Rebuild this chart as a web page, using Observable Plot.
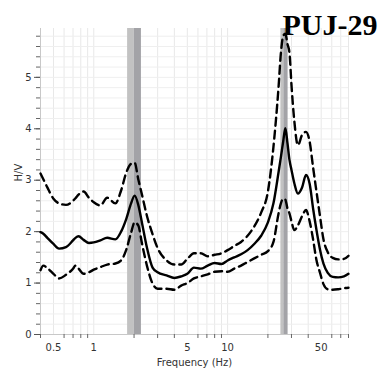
<!DOCTYPE html>
<html>
<head>
<meta charset="utf-8">
<script src="https://cdn.jsdelivr.net/npm/d3@7"></script>
<script src="https://cdn.jsdelivr.net/npm/@observablehq/plot@0.6"></script>
<style>
  body { margin: 0; background: #fff; }
</style>
</head>
<body>
<div id="chart"></div>
<script>
// H/V spectral ratio for station PUJ-29: mean curve and ± one standard deviation
const stationName = "PUJ-29";

const freq = [0.40, 0.42, 0.45, 0.50, 0.55, 0.62, 0.70, 0.73, 0.77, 0.84, 0.92, 1.0, 1.12, 1.26, 1.45, 1.6, 1.75, 1.9, 2.02, 2.15, 2.3, 2.5, 2.75, 3.0, 3.5, 4.0, 4.5, 5.0, 5.6, 6.3, 7.1, 8.0, 9.0, 10, 11.2, 12.6, 14.1, 15.8, 17.8, 20, 22, 24, 25, 26, 27, 28, 29, 30, 31.5, 33.5, 36, 38.5, 41, 43.5, 46, 49, 52, 56, 61, 67, 74, 80];

const hvMean = [1.99, 1.96, 1.88, 1.76, 1.67, 1.70, 1.83, 1.88, 1.91, 1.84, 1.78, 1.79, 1.83, 1.88, 1.85, 2.00, 2.25, 2.55, 2.70, 2.52, 2.15, 1.68, 1.30, 1.21, 1.15, 1.10, 1.13, 1.18, 1.30, 1.28, 1.34, 1.39, 1.37, 1.44, 1.50, 1.56, 1.64, 1.76, 1.92, 2.18, 2.55, 3.15, 3.45, 3.75, 4.01, 3.72, 3.39, 3.20, 2.94, 2.74, 2.86, 3.10, 2.93, 2.45, 2.05, 1.65, 1.38, 1.20, 1.12, 1.11, 1.13, 1.18];

const hvUpper = [3.13, 3.02, 2.86, 2.64, 2.55, 2.52, 2.60, 2.65, 2.72, 2.78, 2.66, 2.57, 2.51, 2.66, 2.55, 2.80, 3.15, 3.32, 3.34, 3.02, 2.70, 2.30, 1.95, 1.68, 1.44, 1.36, 1.36, 1.47, 1.58, 1.58, 1.52, 1.55, 1.58, 1.64, 1.72, 1.80, 1.92, 2.10, 2.37, 2.78, 3.65, 4.80, 5.47, 5.80, 5.85, 5.65, 5.47, 4.85, 4.15, 3.68, 3.88, 3.94, 3.75, 3.25, 2.80, 2.30, 1.85, 1.60, 1.49, 1.46, 1.47, 1.53];

const hvLower = [1.25, 1.34, 1.29, 1.18, 1.09, 1.16, 1.28, 1.34, 1.28, 1.18, 1.21, 1.26, 1.31, 1.36, 1.38, 1.44, 1.65, 1.98, 2.18, 2.12, 1.75, 1.33, 0.99, 0.89, 0.89, 0.87, 0.95, 1.00, 1.09, 1.13, 1.17, 1.22, 1.23, 1.22, 1.28, 1.34, 1.41, 1.48, 1.55, 1.62, 1.80, 2.35, 2.55, 2.64, 2.62, 2.45, 2.35, 2.20, 2.03, 2.12, 2.30, 2.42, 2.20, 1.85, 1.46, 1.20, 0.98, 0.88, 0.87, 0.88, 0.90, 0.91];

// Peak frequency bands: lower bound, peak, upper bound (Hz)
const bandLow  = [1.79, 25.0];
const bandPeak = [2.01, 26.3];
const bandHigh = [2.27, 28.3];

const xTickLabels = [0.5, 1, 5, 10, 50];
const yTickLabels = [0, 1, 2, 3, 4, 5];

const xDomain = [0.4, 80];
const yDomain = [0, 5.95];

const rows = freq.map((f, i) => ({f, mean: hvMean[i], upper: hvUpper[i], lower: hvLower[i]}));
const bands = bandLow.map((lo, i) => ({lo, peak: bandPeak[i], hi: bandHigh[i]}));

const xGrid = d3.scaleLog().domain(xDomain).ticks();
const xMinor = xGrid.filter(v => !xTickLabels.includes(+v.toPrecision(6)));
const yMinor = d3.range(0, 30).map(i => i / 5).filter(v => v <= yDomain[1]);

const dash = "8,5";

const chart = Plot.plot({
  width: 379,
  height: 380,
  marginLeft: 40,
  marginRight: 31,
  marginTop: 28,
  marginBottom: 46,
  style: {fontFamily: "DejaVu Sans", fontSize: "10px", color: "#333", background: "#fff"},
  x: {type: "log", domain: xDomain},
  y: {domain: yDomain},
  marks: [
    Plot.gridX(xGrid, {stroke: "#e8e8e8", strokeOpacity: 1}),
    Plot.gridY(yMinor, {stroke: "#efefef", strokeOpacity: 1}),
    Plot.rect(bands, {x1: "lo", x2: "peak", fill: "#c2c2c2"}),
    Plot.rect(bands, {x1: "peak", x2: "hi", fill: "#a3a3a7"}),
    Plot.ruleX([xDomain[0]], {stroke: "#c8c8c8"}),
    Plot.ruleY([0], {stroke: "#c8c8c8"}),
    Plot.axisY(yMinor, {tickSize: 4, tickFormat: () => "", stroke: "#666", label: null}),
    Plot.axisY(yTickLabels, {tickSize: 6, tickPadding: 3, tickFormat: d => String(d), stroke: "#555", label: null}),
    Plot.axisX(xMinor, {tickSize: 4, tickFormat: () => "", stroke: "#666", label: null}),
    Plot.text(xTickLabels, {x: d => d, text: d => String(d), frameAnchor: "bottom", dy: 16, fill: "#333"}),
    Plot.line(rows, {x: "f", y: "upper", stroke: "#000", strokeWidth: 2.4, strokeDasharray: dash, curve: "monotone-x"}),
    Plot.line(rows, {x: "f", y: "lower", stroke: "#000", strokeWidth: 2.4, strokeDasharray: dash, curve: "monotone-x"}),
    Plot.line(rows, {x: "f", y: "mean", stroke: "#000", strokeWidth: 2.4, curve: "monotone-x"}),
    Plot.text(["Frequency (Hz)"], {frameAnchor: "bottom", dy: 31, fill: "#333", fontSize: 10}),
    Plot.text(["H/V"], {frameAnchor: "left", dx: -22, rotate: -90, fill: "#333", fontSize: 10}),
    Plot.text([stationName], {
      frameAnchor: "top-right", textAnchor: "end", lineAnchor: "bottom",
      dx: 29, dy: 6, fontFamily: "Liberation Serif", fontWeight: "bold", fontSize: 30, fill: "#000"
    })
  ]
});

document.getElementById("chart").append(chart);
</script>
</body>
</html>
